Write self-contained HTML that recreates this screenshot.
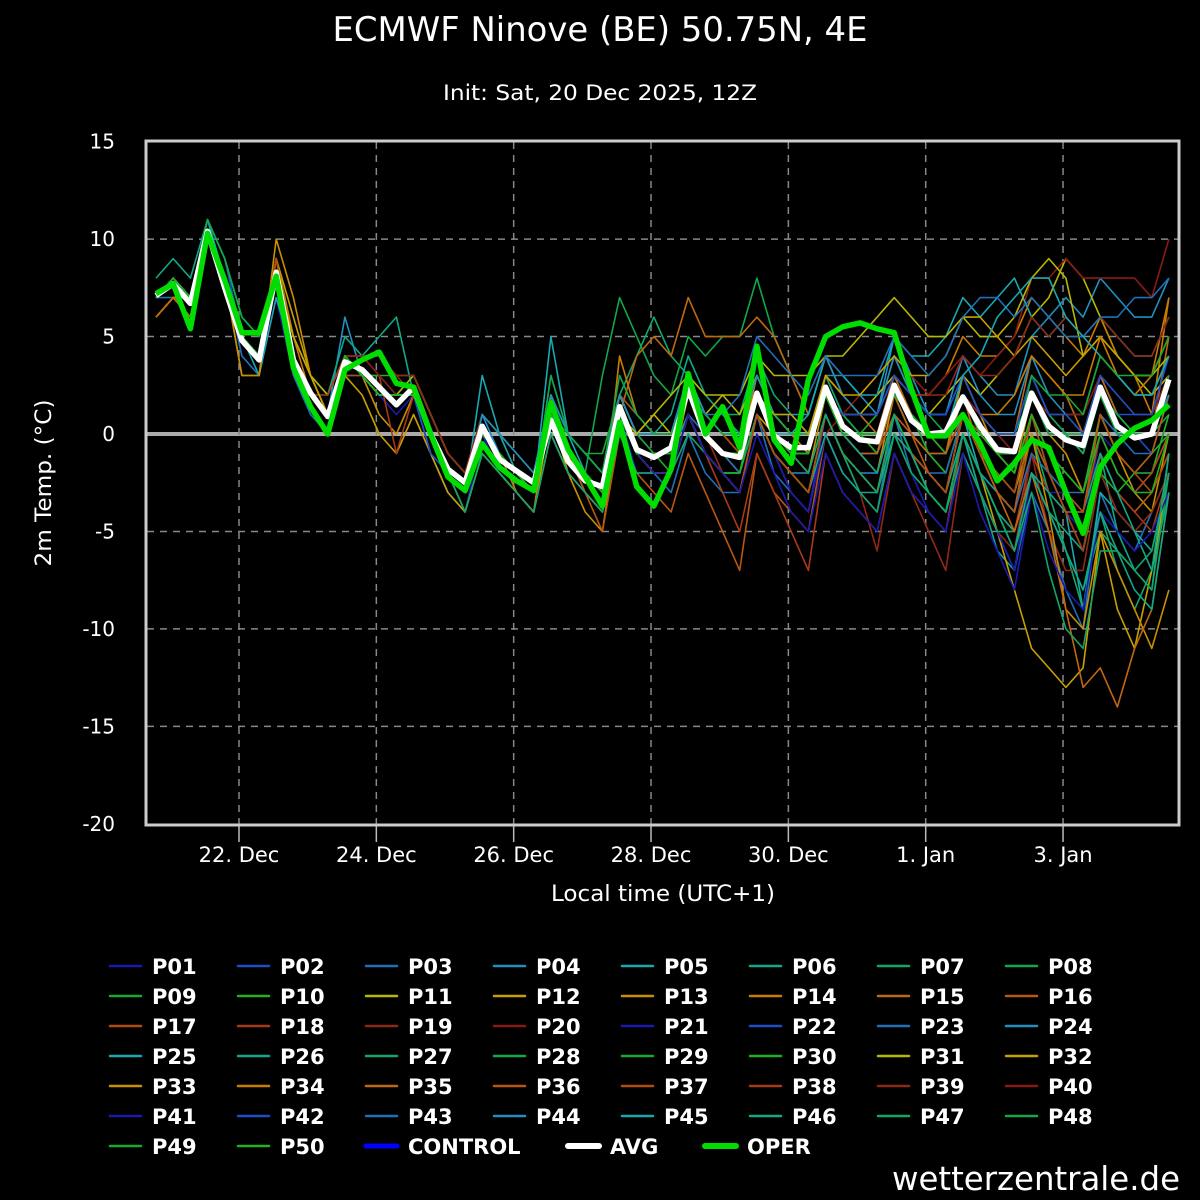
<!DOCTYPE html>
<html><head><meta charset="utf-8"><style>
html,body{margin:0;padding:0;background:#000;}
svg{display:block;}
text{font-family:"DejaVu Sans","Liberation Sans",sans-serif;fill:#fff;}
</style></head><body>
<svg id="chart" width="1200" height="1200" viewBox="0 0 1200 1200">
<rect x="0" y="0" width="1200" height="1200" fill="#000"/>
<text x="600" y="41" font-size="34" text-anchor="middle" textLength="535" lengthAdjust="spacingAndGlyphs">ECMWF Ninove (BE) 50.75N, 4E</text>
<text x="600" y="100" font-size="21" text-anchor="middle" textLength="314" lengthAdjust="spacingAndGlyphs">Init: Sat, 20 Dec 2025, 12Z</text>
<text transform="translate(51,483) rotate(-90)" font-size="22" text-anchor="middle" textLength="167" lengthAdjust="spacingAndGlyphs">2m Temp. (°C)</text>
<text x="663" y="901" font-size="22" text-anchor="middle" textLength="224" lengthAdjust="spacingAndGlyphs">Local time (UTC+1)</text>
<text x="1180" y="1190" font-size="33" text-anchor="end" textLength="288" lengthAdjust="spacingAndGlyphs">wetterzentrale.de</text>
<g id="grid"></g>
<g id="series"></g>
<g id="axes"></g>
<g id="legend"></g>
</svg>
<script>
const yTicks = [15, 10, 5, 0, -5, -10, -15, -20];
const xTickDays = [0, 2, 4, 6, 8, 10, 12];
const xTickLabels = ["22. Dec", "24. Dec", "26. Dec", "28. Dec", "30. Dec", "1. Jan", "3. Jan"];
const startDay = -1.208;
const stepDay = 0.25;
const avgSeries = [7.1,7.7,6.7,10.4,7.5,4.8,3.8,8.3,3.8,2.1, 0.9,3.7,3.3,2.4,1.5,2.4,0.0,-1.8,-2.5,0.4, -1.3,-1.9,-2.5,0.7,-1.4,-2.4,-2.7,1.4,-0.8,-1.2, -0.7,2.3,-0.1,-1.0,-1.2,2.1,-0.1,-0.7,-0.7,2.4, 0.4,-0.3,-0.4,2.5,0.7,0.0,0.1,1.9,0.4,-0.8, -0.9,2.1,0.4,-0.3,-0.6,2.4,0.4,-0.2,0.0,2.8];
const operSeries = [7.2,7.7,5.4,10.3,7.9,5.2,5.2,8.1,3.4,1.4, 0.0,3.3,3.8,4.2,2.6,2.4,0.0,-2.2,-2.9,-0.5, -1.7,-2.4,-2.9,1.6,-0.8,-2.2,-3.7,0.6,-2.7,-3.7, -1.8,3.1,0.0,1.4,-0.7,4.5,-0.3,-1.5,2.8,5.0, 5.5,5.7,5.4,5.2,2.3,-0.1,-0.1,1.0,-0.5,-2.4, -1.5,-0.3,-0.7,-3.0,-5.1,-1.7,-0.5,0.3,0.7,1.5];
const memberNames = ["P01","P02","P03","P04","P05","P06","P07","P08","P09","P10","P11","P12","P13","P14","P15","P16","P17","P18","P19","P20","P21","P22","P23","P24","P25","P26","P27","P28","P29","P30","P31","P32","P33","P34","P35","P36","P37","P38","P39","P40","P41","P42","P43","P44","P45","P46","P47","P48","P49","P50"];
const members = [
[6,7,6,10,8,4,3,7,3,2,1,4,3,2,1,2,-1,-3,-4,0,-2,-3,-4,0,-2,-3,-4,1,-2,-2,-2,1,-1,-2,-3,1,-1,-3,-4,1,-1,-2,-3,1,-1,-2,-3,0,-2,-4,-6,-1,-3,-4,-5,0,-2,-3,-2,1],
[7,8,7,11,9,5,4,8,4,2,1,4,3,2,2,3,1,-1,-2,1,0,-1,-2,2,0,-1,-2,2,0,0,0,3,1,0,0,3,1,0,-1,3,1,1,0,3,2,1,1,3,1,0,-1,3,1,0,-1,3,1,0,-1,2],
[7,7,6,10,8,4,3,8,3,1,0,3,3,2,2,2,-1,-3,-4,-1,-2,-3,-4,0,-2,-3,-4,0,-2,-2,-3,0,-2,-3,-3,1,-2,-3,-4,0,-2,-3,-4,1,-2,-3,-4,0,-3,-5,-7,-3,-5,-8,-10,-3,-5,-6,-4,-2],
[7,8,7,10,8,5,4,8,4,2,1,6,3,2,2,2,0,-2,-3,1,-1,-2,-3,1,-1,-2,-3,2,0,-1,-1,3,1,0,0,2,1,0,-1,3,3,2,1,5,3,1,1,4,3,2,2,5,6,7,6,8,7,6,6,8],
[7,8,7,11,8,5,3,7,4,2,1,4,3,2,2,2,0,-2,-3,3,0,-2,-3,5,0,-2,-3,1,-1,-1,-1,2,0,-1,-2,1,-1,-2,-2,1,-1,-2,-2,1,-1,-2,-3,1,-2,-3,-4,1,-2,-4,-9,-3,-4,-5,-6,-2],
[8,9,8,11,9,6,5,8,5,3,2,5,4,5,6,2,0,-2,-3,0,-1,-2,-3,3,0,-1,-2,2,0,0,1,4,2,1,0,3,1,0,-1,2,0,-1,-2,1,-1,-3,-4,0,-3,-6,-7,-2,-4,-5,-6,-1,-5,-7,-8,-1],
[7,8,7,11,9,6,5,8,4,2,1,4,3,3,2,2,0,-2,-3,0,-1,-2,-3,1,-1,-2,-3,2,4,6,4,3,2,1,1,4,2,1,0,3,1,0,-1,2,0,-1,-2,1,-1,-2,-3,0,-3,-6,-9,-4,-7,-9,-7,-3],
[7,8,7,11,9,6,5,8,4,2,1,4,3,2,2,2,0,-2,-3,0,-1,-2,-3,2,-1,-2,3,7,5,3,2,5,4,5,5,8,5,3,1,4,2,1,1,3,2,1,0,3,1,0,0,3,1,1,0,3,1,0,0,2],
[7,8,7,10,8,5,4,8,4,2,1,4,3,2,2,2,0,-2,-3,0,-1,-2,-3,1,0,-1,-1,2,0,-1,-1,2,0,-1,-1,2,0,-1,-1,2,0,0,0,2,1,0,0,2,0,-1,-1,2,0,0,-1,2,0,0,0,3],
[7,8,7,10,8,5,4,8,4,2,1,4,3,3,3,3,1,-1,-2,1,0,-1,-2,2,0,-1,-2,2,1,0,0,2,1,0,0,3,1,0,0,2,1,0,1,3,1,-1,-2,1,-1,-3,-4,0,-2,-4,-6,-2,-3,-2,-1,0],
[6,7,7,10,8,5,4,9,5,3,2,4,3,2,2,3,1,-1,-2,0,-1,-2,-3,1,-1,-2,-3,2,0,1,0,2,1,2,1,3,1,0,-1,2,1,1,2,3,2,1,2,3,2,3,4,6,7,9,8,6,4,3,2,3],
[6,7,6,10,8,3,3,9,6,3,1,3,2,0,-1,1,-1,-3,-4,-1,-2,-3,-4,1,-2,-3,-4,1,-1,-2,-2,1,-1,-2,-3,1,0,-1,-2,1,-1,-2,-3,1,-1,-3,-4,0,-2,-5,-8,-11,-12,-13,-12,-5,-9,-11,-7,-2],
[6,7,7,10,8,3,3,10,7,3,1,4,3,1,0,2,0,-2,-4,-1,-2,-3,-4,0,-2,-4,-5,1,-1,-2,-2,2,0,-1,-2,2,0,-1,-2,2,0,-1,-2,2,1,0,-1,3,1,-1,-2,2,0,-1,-3,1,-1,-3,-4,0],
[7,8,7,10,8,5,4,9,5,2,1,4,3,2,2,2,0,-2,-3,0,-1,-3,-4,2,-1,-3,-4,4,1,0,0,3,1,0,-1,3,1,0,-1,3,2,1,1,4,2,2,3,5,4,4,5,7,6,5,4,6,4,3,1,7],
[7,8,7,10,8,5,4,8,4,2,1,4,3,2,2,2,0,-2,-3,0,-1,-2,-3,1,-1,-2,-3,1,4,5,4,7,5,5,5,6,5,3,1,4,2,1,0,3,1,0,0,3,1,0,0,4,3,2,0,3,1,0,0,5],
[7,8,7,10,8,5,4,9,4,2,1,4,3,2,2,2,0,-2,-3,0,-1,-2,-3,1,-1,-3,-5,0,-2,-3,-4,-1,-3,-5,-7,-1,-3,-4,-5,0,-2,-3,-4,0,-1,-2,-3,1,-1,-3,-4,0,-2,-3,-5,-1,-3,-4,-3,-1],
[7,8,7,10,8,5,4,9,4,2,1,3,3,2,2,2,0,-2,-3,0,-1,-2,-3,1,-1,-2,-3,2,1,0,0,2,1,0,-1,2,0,-1,-1,2,0,-1,-1,1,0,-1,-1,1,0,-1,-2,1,-1,-2,-3,1,-1,-2,-3,-1],
[7,8,7,10,8,5,4,8,4,2,2,4,4,3,-1,2,0,-2,-3,0,-1,-2,-3,1,-1,-2,-3,1,-1,-2,-2,1,-1,-3,-5,-1,-3,-5,-7,-1,-3,-4,-5,-1,-3,-4,-5,0,-2,-4,-5,-1,-3,-4,-6,-1,-3,-4,-5,-2],
[7,8,7,10,8,5,4,8,4,2,1,4,4,4,3,3,1,-1,-2,1,0,-1,-2,1,-1,-2,-3,1,-1,-2,-2,1,0,-2,-3,1,-1,-2,-3,1,-1,-3,-6,-1,-3,-5,-7,-1,-3,-5,-6,-1,-5,-7,-7,-2,-4,-5,-4,-2],
[7,8,7,10,8,5,4,8,4,2,1,4,4,3,2,2,0,-2,-3,0,-1,-2,-3,1,-1,-2,-3,1,-1,-2,-2,1,-1,-2,-3,1,-1,-3,-4,0,1,2,3,4,3,2,3,4,3,4,5,8,8,9,8,8,8,8,7,10],
[7,8,7,10,8,5,4,8,4,2,1,4,3,2,2,2,0,-2,-3,0,-1,-2,-3,1,-1,-2,-3,1,-1,-2,-2,1,-1,-2,-3,1,-1,-3,-4,0,-2,-3,-4,0,-2,-4,-5,-1,-3,-5,-7,-2,-3,-3,-4,0,-1,-2,-2,0],
[7,8,7,10,8,5,4,8,4,2,1,4,3,2,2,2,-1,-2,-3,0,-1,-2,-3,1,-1,-2,-3,1,-1,-1,-1,2,0,-1,-1,2,0,-1,-1,2,0,-1,-1,2,0,-1,-1,2,0,-1,-1,2,0,0,-1,2,1,1,1,3],
[7,8,7,10,8,5,4,8,4,2,1,4,3,2,2,2,0,-2,-3,0,-1,-2,-3,1,-1,-2,-3,1,-1,-1,-1,1,0,-1,-2,1,-1,-2,-2,1,-1,-2,-2,1,-1,-2,-2,1,-1,-3,-4,-1,-2,-3,-3,1,0,-1,-1,2],
[7,8,7,10,8,5,4,8,4,2,1,4,3,2,2,2,0,-2,-3,1,0,-1,-2,2,0,-1,-2,2,0,0,0,3,1,0,0,3,1,1,1,4,2,1,1,4,2,1,1,4,2,1,1,4,2,1,1,4,3,2,2,4],
[7,8,7,10,8,5,4,8,4,2,1,4,3,2,2,2,0,-2,-3,0,-1,-2,-3,1,-1,-2,-3,1,-1,-1,-1,2,0,-1,-1,2,0,0,1,4,3,2,2,5,4,4,5,7,6,7,8,6,5,6,5,6,5,4,4,6],
[7,8,7,10,8,5,4,8,4,2,1,4,3,2,2,2,0,-2,-3,0,-1,-2,-3,1,-1,-2,-3,1,-1,-1,-1,1,-1,-2,-2,1,-1,-2,-3,0,-2,-3,-3,0,-1,-2,-3,0,-2,-4,-5,-2,-3,-4,-4,-1,-3,-5,-7,-1],
[7,8,7,10,8,5,4,8,4,2,1,4,3,2,2,2,0,-2,-4,-1,-2,-3,-4,0,-2,-3,-4,0,-2,-2,-2,0,-1,-2,-2,1,-1,-2,-3,1,-1,-3,-4,0,-2,-3,-4,-1,-3,-5,-5,-2,-4,-6,-8,-5,-6,-7,-8,-2],
[7,8,7,10,8,5,4,8,4,2,1,4,3,2,2,2,0,-2,-3,0,-1,-2,-3,3,0,-1,-2,3,1,0,0,2,1,0,0,2,1,0,0,2,1,0,0,2,1,0,0,2,1,0,0,2,1,0,0,2,1,0,0,1],
[7,8,7,10,8,5,4,8,4,2,1,4,3,2,2,2,0,-2,-3,0,-1,-2,-3,1,-1,-2,-3,1,-1,-1,-1,2,0,-1,-1,2,0,-1,-1,2,0,0,0,2,1,0,0,2,0,-1,-1,2,0,0,-1,2,0,0,0,2],
[7,8,7,10,8,5,4,8,4,2,1,4,3,2,2,2,0,-2,-3,0,-1,-2,-3,1,-1,-2,-3,1,-1,-1,-2,1,-1,-2,-2,2,0,-1,-1,2,0,0,-1,2,1,0,-1,2,0,-1,-2,1,-1,-2,-3,1,-1,-2,-2,1],
[7,8,7,10,8,5,4,8,4,2,1,4,3,2,2,2,0,-2,-3,0,-1,-2,-3,1,-1,-2,-3,1,0,1,2,3,2,2,2,4,3,3,3,4,4,5,6,7,6,5,5,6,5,5,6,8,9,8,4,5,4,3,3,4],
[6,7,6,10,8,5,4,8,5,3,1,4,3,2,2,2,0,-2,-3,0,-1,-2,-3,1,-1,-2,-3,1,-1,-1,-1,2,0,-1,-1,2,1,1,0,3,2,2,3,4,3,3,4,6,6,5,4,5,4,3,4,5,4,3,3,5],
[6,7,6,10,8,5,4,8,4,2,1,4,3,2,2,2,0,-2,-3,0,-1,-2,-3,1,-1,-2,-3,1,-1,-2,-2,1,-1,-2,-3,1,-1,-2,-3,1,-1,-2,-3,1,-1,-2,-3,1,-1,-2,-3,0,-4,-9,-10,-5,-7,-9,-11,-8],
[6,7,6,10,8,5,4,8,4,2,1,4,3,2,2,2,0,-2,-3,0,-1,-2,-3,1,-1,-2,-3,1,-1,-1,-1,2,0,-1,-1,2,0,-1,-1,2,0,0,0,2,1,0,0,2,1,1,2,4,3,2,2,5,3,2,3,7],
[6,7,6,10,8,5,4,8,4,2,1,4,3,2,2,2,0,-2,-3,0,-1,-2,-3,1,-1,-2,-3,1,-1,-1,-1,2,0,-1,-1,2,0,-1,-1,2,0,-1,-1,2,0,-1,-1,2,-1,-3,-5,-2,-5,-9,-13,-12,-14,-11,-9,-3],
[7,8,7,10,8,5,4,8,4,2,1,4,3,2,2,2,0,-2,-3,0,-1,-2,-3,1,-1,-2,-3,1,-1,-1,-1,2,0,-1,-1,2,0,-1,-1,2,0,-1,-2,1,0,-2,-3,1,-1,-3,-4,1,-1,-3,-4,1,-1,-2,-1,2],
[7,8,7,10,8,5,4,8,4,2,1,4,3,2,2,2,0,-2,-3,0,-1,-2,-3,1,-1,-2,-3,1,-1,-2,-2,1,-1,-2,-3,1,-1,-2,-3,1,-1,-2,-3,1,-1,-2,-3,1,-1,-2,-3,1,-2,-4,-4,0,-2,-3,-2,0],
[7,8,7,10,8,5,4,8,4,2,1,4,3,2,2,2,0,-2,-3,0,-1,-2,-3,1,-1,-2,-3,1,-1,-1,-1,2,0,-1,-1,2,0,-1,-1,2,0,0,0,2,1,0,0,2,0,-1,-1,2,0,0,-1,2,0,0,0,2],
[7,8,7,10,8,5,4,8,4,2,1,4,4,4,3,2,0,-2,-3,0,-1,-2,-3,1,-1,-2,-3,1,-1,-1,-1,2,0,-1,-1,2,0,-1,-1,2,1,1,1,3,2,2,2,4,3,3,4,6,5,6,5,6,5,4,4,6],
[7,8,7,10,8,5,4,8,4,2,1,4,3,2,2,2,0,-2,-3,0,-1,-2,-3,1,-1,-2,-3,1,-1,-1,-1,2,0,-1,-1,2,0,-1,-1,2,0,0,0,2,1,0,0,2,1,0,-1,2,1,1,1,3,2,1,1,3],
[7,8,7,10,8,5,4,8,4,2,1,4,3,2,2,2,0,-2,-3,0,-1,-2,-3,1,-1,-2,-3,1,-1,-2,-2,1,-1,-2,-3,0,-2,-4,-5,-1,-3,-4,-5,-1,-3,-4,-5,-1,-4,-6,-8,-3,-6,-8,-9,-4,-5,-6,-5,-3],
[7,8,7,10,8,5,4,8,4,2,1,4,3,2,2,2,0,-2,-3,0,-1,-2,-3,1,-1,-2,-3,1,-1,-1,-1,2,0,-1,-1,2,0,-1,-1,2,1,1,1,3,2,1,1,3,1,0,0,3,1,1,0,3,2,1,1,4],
[7,8,7,10,8,5,4,8,4,2,1,4,3,2,2,2,0,-2,-3,0,-1,-2,-3,1,-1,-2,-3,1,-1,-1,-1,2,1,1,2,5,4,3,2,4,3,3,3,5,4,3,4,6,7,7,6,7,6,5,5,6,6,7,7,8],
[7,8,7,10,8,5,4,8,4,2,1,4,3,2,2,2,0,-2,-3,0,-1,-2,-3,1,-1,-2,-3,1,-1,-1,-1,2,0,-1,-1,2,0,-1,-1,2,0,0,0,2,1,0,0,2,0,-1,-1,2,0,0,-1,2,0,0,0,2],
[7,8,7,10,8,5,4,8,4,2,1,4,3,2,2,2,0,-2,-3,0,-1,-2,-3,1,-1,-2,-3,1,-1,-1,-1,2,0,-1,-1,2,0,-1,-1,2,0,0,0,2,1,0,0,3,4,6,7,8,8,6,5,4,3,2,2,4],
[7,8,7,10,8,5,4,8,4,2,1,4,3,2,2,2,0,-2,-3,0,-1,-2,-3,1,-1,-2,-3,1,-1,-1,-1,2,0,-1,-1,2,0,-1,-1,2,0,-1,-2,1,-1,-3,-4,0,-2,-4,-6,-2,-4,-6,-8,-4,-6,-8,-9,-3],
[7,8,7,10,8,5,4,8,4,2,1,4,3,2,2,2,0,-2,-3,0,-1,-2,-3,1,-1,-2,-3,1,-1,-1,-1,2,0,-1,-1,2,0,-1,-2,1,-1,-2,-3,1,-1,-3,-4,0,-2,-4,-6,-3,-7,-10,-11,-6,-6,-7,-6,-2],
[7,8,7,10,8,5,4,8,4,2,1,4,3,2,2,2,0,-2,-3,0,-1,-2,-3,1,-1,-2,-3,1,-1,-1,-1,2,0,-1,-1,2,0,-1,-1,2,0,0,0,2,1,0,0,2,0,-1,-1,2,0,0,-1,2,0,0,0,3],
[7,8,7,10,8,5,4,8,4,2,1,4,3,2,2,2,0,-2,-3,0,-1,-2,-3,1,-1,-2,-3,1,-1,-1,-1,2,0,-1,-1,2,0,-1,-1,2,0,0,0,2,1,0,0,2,0,-1,-1,3,2,2,1,4,3,3,3,5],
[7,8,7,10,8,5,4,8,4,2,1,4,3,2,2,2,0,-2,-3,0,-1,-2,-3,1,-1,-2,-3,1,-1,-1,-1,2,0,-1,-1,2,0,-1,-1,2,0,0,0,2,1,0,0,2,0,-1,-2,1,-1,-2,-3,0,-2,-3,-3,0]
];
const palette = ['#1a1ab0','#1f4cc8','#1f70b8','#1f90c0','#18a8b0','#10a888','#10a868','#10a848','#18a830','#20b020','#b8b800','#c8a000','#c89000','#c87c00','#c06810','#b85810','#b04c10','#a83a18','#902818','#8a1a14'];

const svgNS = "http://www.w3.org/2000/svg";
const X0 = 239, PXDAY = 68.67, Y0 = 434, PXDEG = 19.49;
const L = 147, R = 1178, T = 142, B = 824;
function xScale(day){ return X0 + day * PXDAY; }
function yScale(v){ return Y0 - v * PXDEG; }
function mk(tag, attrs, parent){
  const e = document.createElementNS(svgNS, tag);
  for (const k in attrs) e.setAttribute(k, attrs[k]);
  parent.appendChild(e);
  return e;
}
const grid = document.getElementById('grid');
const axes = document.getElementById('axes');
const series = document.getElementById('series');
const legend = document.getElementById('legend');

yTicks.forEach(v => {
  const y = yScale(v);
  if (v !== 15 && v !== -20) {
    const ln = mk('line', {x1:L, x2:R, y1:y, y2:y, stroke: v===0 ? '#aaa' : '#888', 'stroke-width': v===0 ? 4 : 1.5, 'stroke-dasharray': v===0 ? '' : '7,6'}, grid);
    
    
  }
  const t = mk('text', {x:115, y:y+7, 'font-size':20, 'text-anchor':'end'}, axes);
  t.textContent = String(v);
  
  
});
xTickDays.forEach((d, i) => {
  const x = xScale(d);
  const ln = mk('line', {x1:x, x2:x, y1:T, y2:B, stroke:'#888', 'stroke-width':1.5, 'stroke-dasharray':'7,6'}, grid);
  
  
  const tk = mk('line', {x1:x, x2:x, y1:B, y2:B+18, stroke:'#bbb', 'stroke-width':1.5}, axes);
  
  
  const t = mk('text', {x:x, y:862, 'font-size':21, 'text-anchor':'middle'}, axes);
  t.textContent = xTickLabels[i];
  
  
});
const frame = mk('rect', {x:L-1, y:T-1, width:R-L+2, height:B-T+2, fill:'none', stroke:'#ccc', 'stroke-width':3}, axes);



function pts(arr){
  return arr.map((v, i) => xScale(startDay + i*stepDay).toFixed(1) + ',' + yScale(v).toFixed(1)).join(' ');
}
members.forEach((m, k) => {
  const p = mk('polyline', {points: pts(m), fill:'none', stroke: palette[k % 20], 'stroke-width':1.6, 'stroke-linejoin':'round'}, series);
  
  
});
const avgLine = mk('polyline', {points: pts(avgSeries), fill:'none', stroke:'#fff', 'stroke-width':5.5, 'stroke-linejoin':'round'}, series);


const operLine = mk('polyline', {points: pts(operSeries), fill:'none', stroke:'#00dd00', 'stroke-width':5.5, 'stroke-linejoin':'round'}, series);



const legendNames = memberNames.concat(["CONTROL","AVG","OPER"]);
const specialX = {CONTROL: 366, AVG: 568, OPER: 705};
legendNames.forEach((n, k) => {
  const col = k % 8, row = Math.floor(k / 8);
  const x = (n in specialX) ? specialX[n] : 110 + col * 128;
  const y = 966 + row * 30;
  let color = palette[k % 20], w = 2.5;
  if (n === 'CONTROL') { color = '#0000ff'; w = 5; }
  if (n === 'AVG') { color = '#ffffff'; w = 6; }
  if (n === 'OPER') { color = '#00dd00'; w = 6; }
  const g = mk('g', {}, legend);
  
  
  const ln = mk('line', {x1:x, x2:x+31, y1:y, y2:y, stroke:color, 'stroke-width':w, 'stroke-linecap':'round'}, g);
  
  
  const t = mk('text', {x:x+42, y:y+8, 'font-size':21, 'font-weight':'bold'}, g);
  t.textContent = n;
  
  
});
</script>
</body></html>
